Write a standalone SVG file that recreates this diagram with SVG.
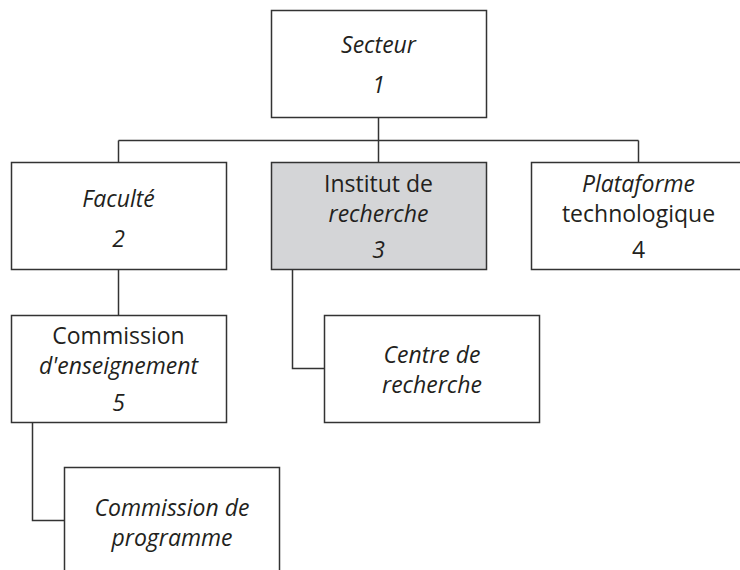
<svg xmlns="http://www.w3.org/2000/svg" width="740" height="570" viewBox="0 0 740 570">
  <style>
    .box { fill: #ffffff; stroke: #333333; stroke-width: 1.5; }
    .shaded { fill: #d4d5d7; }
    .conn { fill: none; stroke: #333333; stroke-width: 1.5; }
    text { font-family: "Open Sans", "Liberation Sans", sans-serif; font-size: 23px; fill: #231f20; text-anchor: middle; }
    .it { font-style: italic; }
  </style>
  <rect width="740" height="570" fill="#ffffff"/>
  <g id="connectors">
    <path class="conn" d="M378.5 117 V162.5"/>
    <path class="conn" d="M118.5 140.5 H638.5"/>
    <path class="conn" d="M118.5 140.5 V162.5"/>
    <path class="conn" d="M638.5 140.5 V162.5"/>
    <path class="conn" d="M118.5 269.5 V315.5"/>
    <path class="conn" d="M292.5 269.5 V368.5 H324.5"/>
    <path class="conn" d="M32.5 422.5 V520.5 H64.5"/>
  </g>
  <g id="secteur">
    <rect class="box" x="271.5" y="10.5" width="215" height="107"/>
    <text class="it" x="378.5" y="53">Secteur</text>
    <text class="it" x="378.5" y="93">1</text>
  </g>
  <g id="faculte">
    <rect class="box" x="11.5" y="162.5" width="215" height="107"/>
    <text class="it" x="118.5" y="207">Faculté</text>
    <text class="it" x="118.5" y="247">2</text>
  </g>
  <g id="institut">
    <rect class="box shaded" x="271.5" y="162.5" width="215" height="107"/>
    <text x="378.5" y="192">Institut de</text>
    <text class="it" x="378.5" y="222">recherche</text>
    <text class="it" x="378.5" y="258">3</text>
  </g>
  <g id="plataforme">
    <rect class="box" x="531.5" y="162.5" width="215" height="107"/>
    <text class="it" x="638.5" y="192">Plataforme</text>
    <text x="638.5" y="222">technologique</text>
    <text x="638.5" y="258">4</text>
  </g>
  <g id="commission-enseignement">
    <rect class="box" x="11.5" y="315.5" width="215" height="107"/>
    <text x="118.5" y="344">Commission</text>
    <text class="it" x="118.5" y="374">d'enseignement</text>
    <text class="it" x="118.5" y="411">5</text>
  </g>
  <g id="centre-recherche">
    <rect class="box" x="324.5" y="315.5" width="215" height="107"/>
    <text class="it" x="432" y="363">Centre de</text>
    <text class="it" x="432" y="393">recherche</text>
  </g>
  <g id="commission-programme">
    <rect class="box" x="64.5" y="467.5" width="215" height="107"/>
    <text class="it" x="172" y="516">Commission de</text>
    <text class="it" x="172" y="546">programme</text>
  </g>
</svg>
